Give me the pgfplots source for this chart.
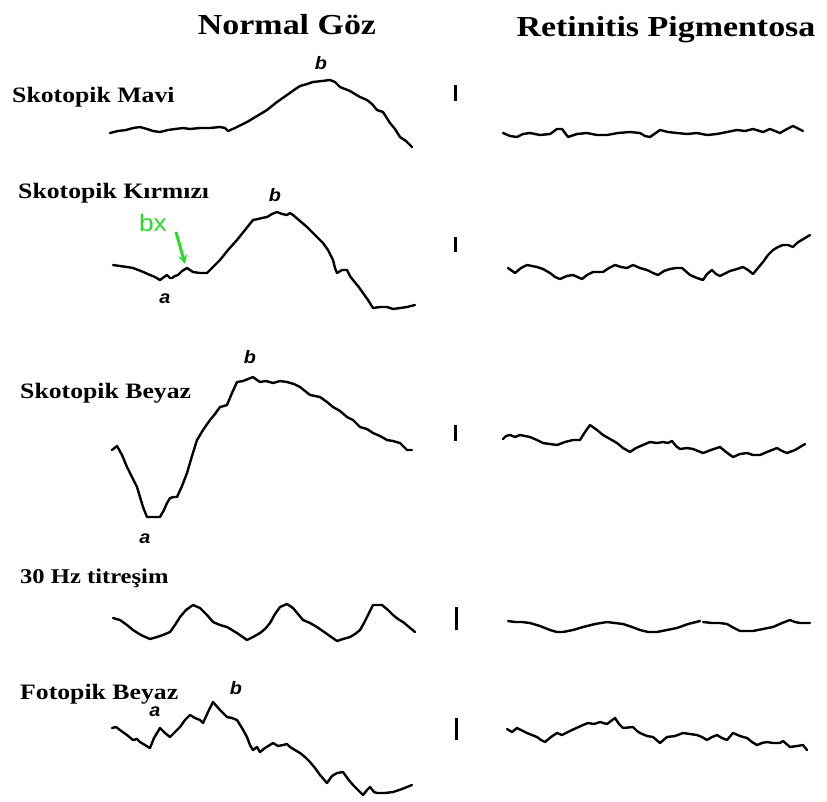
\documentclass[border=0pt]{standalone}
\usepackage{fontspec}
\setmainfont{Liberation Serif}
\newfontfamily\tnr[FakeStretch=1.17]{Liberation Serif}
\newfontfamily\arl[FakeStretch=1.1]{Liberation Sans}
\usepackage{pgfplots}
\pgfplotsset{compat=1.18}
\usetikzlibrary{arrows.meta}
\definecolor{bxgreen}{RGB}{40,220,40}
\begin{document}
\begin{tikzpicture}
\begin{axis}[
  width=827pt, height=801pt, scale only axis,
  xmin=0, xmax=827, ymin=0, ymax=801, y dir=reverse,
  hide axis, clip=false,
  tr/.style={black, line width=2.4pt, line join=round, line cap=round, mark=none},
  sb/.style={black, line width=3pt, line cap=butt, mark=none},
]
\path (axis cs:0,0) rectangle (axis cs:827,801);
% --- Normal eye traces ---
\addplot[tr] coordinates {(110,133)(118,131)(126,130)(133,128)(140,127)(147,129)(153,131)(160,132)(168,130)(175,129)(183,128)(190,129)(200,128)(210,128)(220,127)(225,128)(228,131)(235,128)(247,122)(257,116)(267,110)(277,102)(287,95)(294,90)(300,86)(307,84)(313,82)(322,81)(330,80)(335,82)(340,87)(350,91)(360,97)(367,100)(372,104)(377,110)(383,112)(390,123)(395,129)(400,137)(406,141)(412,147)};
\addplot[tr] coordinates {(113,265)(120,266)(127,267)(133,268)(141,271)(150,275)(155,277)(160,280)(164,277)(167,275)(170,278)(172,278)(175,276)(178,275)(182,271)(187,268)(190,270)(193,272)(200,273)(207,273)(213,267)(220,260)(228,250)(237,240)(245,230)(253,220)(258,219)(262,218)(267,217)(272,214)(277,212)(282,214)(287,215)(290,213)(293,215)(300,221)(307,227)(315,235)(323,243)(328,250)(333,260)(335,268)(337,273)(342,270)(347,270)(350,276)(353,280)(358,286)(363,293)(368,300)(373,308)(380,307)(387,307)(393,309)(400,308)(407,307)(415,305)};
\addplot[tr] coordinates {(112,450)(117,446)(122,455)(127,467)(132,477)(137,487)(140,497)(143,507)(147,517)(153,517)(160,517)(164,510)(167,503)(170,498)(174,497)(177,497)(182,486)(187,473)(192,456)(197,440)(203,430)(210,420)(215,414)(220,407)(224,406)(227,405)(232,393)(237,382)(243,381)(248,379)(253,377)(257,380)(260,382)(266,381)(273,383)(280,381)(287,382)(294,384)(300,387)(305,391)(310,395)(315,396)(320,397)(327,402)(333,407)(340,411)(347,417)(353,420)(360,427)(367,429)(373,433)(380,436)(387,440)(393,441)(400,443)(404,447)(407,450)(412,450)};
\addplot[tr] coordinates {(113,618)(120,620)(127,625)(133,630)(141,635)(150,639)(157,637)(163,635)(170,632)(175,625)(180,617)(186,610)(193,605)(200,608)(207,615)(213,622)(220,625)(227,627)(237,633)(247,640)(253,637)(260,633)(265,629)(270,623)(275,614)(280,607)(287,604)(293,608)(298,614)(303,620)(310,623)(317,627)(327,634)(337,641)(343,639)(350,637)(355,634)(360,630)(364,623)(367,617)(373,605)(382,605)(388,610)(393,615)(398,619)(403,622)(409,627)(415,632)};
\addplot[tr] coordinates {(112,728)(116,727)(120,730)(127,735)(133,740)(137,739)(140,742)(145,745)(150,748)(154,738)(160,728)(165,733)(170,737)(175,732)(180,727)(185,720)(190,715)(195,718)(200,720)(203,723)(208,712)(213,702)(220,710)(227,717)(232,718)(237,720)(242,728)(247,737)(250,745)(253,750)(257,747)(260,752)(265,748)(273,743)(278,746)(283,745)(287,744)(290,747)(295,750)(300,753)(305,757)(310,762)(315,768)(320,775)(327,783)(332,776)(337,773)(343,772)(348,779)(353,785)(358,790)(363,795)(367,790)(370,787)(374,792)(377,793)(385,793)(393,792)(402,789)(412,785)};
% --- scale bars ---
\addplot[sb] coordinates {(455,85)(455,101)};
\addplot[sb] coordinates {(455,237)(455,252)};
\addplot[sb] coordinates {(455,425)(455,441)};
\addplot[sb] coordinates {(456,607)(456,630)};
\addplot[sb] coordinates {(456,718)(456,740)};
% --- Retinitis pigmentosa traces ---
\addplot[tr] coordinates {(503,133)(510,136)(517,137)(523,134)(530,133)(540,135)(550,134)(557,129)(562,129)(568,137)(577,134)(587,133)(597,135)(607,135)(618,133)(630,132)(640,133)(645,136)(650,137)(660,130)(668,132)(677,133)(687,134)(697,133)(707,135)(717,134)(727,132)(737,130)(745,131)(753,129)(763,132)(770,129)(780,133)(787,129)(793,126)(803,131)};
\addplot[tr] coordinates {(508,268)(515,273)(521,268)(527,265)(537,267)(543,269)(550,273)(555,277)(560,279)(567,276)(573,275)(582,279)(587,275)(593,272)(603,272)(609,268)(615,265)(621,267)(627,268)(633,265)(640,268)(647,270)(653,273)(658,275)(664,271)(670,269)(676,268)(682,268)(690,275)(697,278)(703,280)(707,274)(712,270)(716,274)(720,276)(726,273)(730,271)(737,269)(743,267)(748,270)(753,274)(758,268)(763,262)(768,255)(773,250)(778,247)(783,245)(788,245)(793,247)(797,243)(800,241)(805,238)(810,235)};
\addplot[tr] coordinates {(503,439)(506,436)(510,435)(515,437)(520,435)(525,436)(530,437)(537,440)(543,443)(550,444)(557,445)(565,442)(573,440)(580,440)(585,432)(590,425)(597,430)(603,435)(610,439)(617,443)(623,448)(630,452)(636,448)(643,445)(650,442)(657,443)(663,442)(668,443)(672,441)(676,446)(680,449)(687,448)(693,449)(698,451)(703,453)(711,450)(720,447)(726,452)(733,457)(740,454)(747,453)(753,455)(760,455)(767,452)(772,450)(777,448)(782,451)(787,453)(795,450)(800,447)(805,444)};
\addplot[tr] coordinates {(508,621)(515,622)(522,622)(530,623)(540,626)(550,630)(557,632)(563,632)(573,630)(583,627)(595,624)(607,622)(615,623)(623,624)(632,627)(640,630)(648,632)(657,632)(667,630)(677,628)(688,624)(700,621)};
\addplot[tr] coordinates {(703,622)(712,623)(720,623)(727,624)(734,628)(740,631)(747,631)(753,631)(763,629)(773,627)(782,623)(790,620)(795,622)(800,623)(810,623)};
\addplot[tr] coordinates {(507,729)(512,732)(517,728)(527,733)(537,737)(541,740)(545,742)(551,737)(557,733)(562,735)(572,730)(583,725)(588,723)(594,724)(600,722)(607,724)(611,721)(615,718)(619,724)(623,728)(633,727)(637,731)(640,733)(647,736)(653,737)(660,743)(667,737)(675,736)(683,733)(690,734)(697,735)(702,737)(707,740)(712,737)(717,735)(722,738)(727,740)(733,733)(740,736)(747,738)(752,742)(757,745)(762,743)(767,742)(773,743)(780,743)(783,741)(790,747)(797,746)(803,745)(807,750)};
% --- green arrow ---
\addplot[bxgreen, line width=3pt, mark=none, -{Stealth[length=9pt,width=9pt]}] coordinates {(176,232)(185,264)};
% --- texts ---
\node[font=\tnr\bfseries\fontsize{29}{32}\selectfont, inner sep=0pt] at (axis cs:287,25) {Normal Göz};
\node[font=\tnr\bfseries\fontsize{29}{32}\selectfont, inner sep=0pt] at (axis cs:666,30) {Retinitis Pigmentosa};
\node[font=\tnr\bfseries\fontsize{22}{24}\selectfont, inner sep=0pt, anchor=west] at (axis cs:12,97) {Skotopik Mavi};
\node[font=\tnr\bfseries\fontsize{22}{24}\selectfont, inner sep=0pt, anchor=west] at (axis cs:18,193) {Skotopik Kırmızı};
\node[font=\tnr\bfseries\fontsize{22}{24}\selectfont, inner sep=0pt, anchor=west] at (axis cs:20,393) {Skotopik Beyaz};
\node[font=\tnr\bfseries\fontsize{21}{24}\selectfont, inner sep=0pt, anchor=west] at (axis cs:20,578) {30 Hz titreşim};
\node[font=\tnr\bfseries\fontsize{22}{24}\selectfont, inner sep=0pt, anchor=west] at (axis cs:20,694) {Fotopik Beyaz};
\node[font=\arl\bfseries\itshape\fontsize{18}{20}\selectfont, inner sep=0pt] at (axis cs:321,63) {b};
\node[font=\arl\bfseries\itshape\fontsize{18}{20}\selectfont, inner sep=0pt] at (axis cs:275,195) {b};
\node[font=\arl\bfseries\itshape\fontsize{18}{20}\selectfont, inner sep=0pt] at (axis cs:165,299) {a};
\node[font=\arl\bfseries\itshape\fontsize{18}{20}\selectfont, inner sep=0pt] at (axis cs:250,357) {b};
\node[font=\arl\bfseries\itshape\fontsize{18}{20}\selectfont, inner sep=0pt] at (axis cs:145,539) {a};
\node[font=\arl\bfseries\itshape\fontsize{18}{20}\selectfont, inner sep=0pt] at (axis cs:236,688) {b};
\node[font=\arl\bfseries\itshape\fontsize{18}{20}\selectfont, inner sep=0pt] at (axis cs:155,712) {a};
\node[font=\arl\fontsize{24}{26}\selectfont, text=bxgreen, inner sep=0pt] at (axis cs:153,223) {bx};
\end{axis}
\end{tikzpicture}
\end{document}
